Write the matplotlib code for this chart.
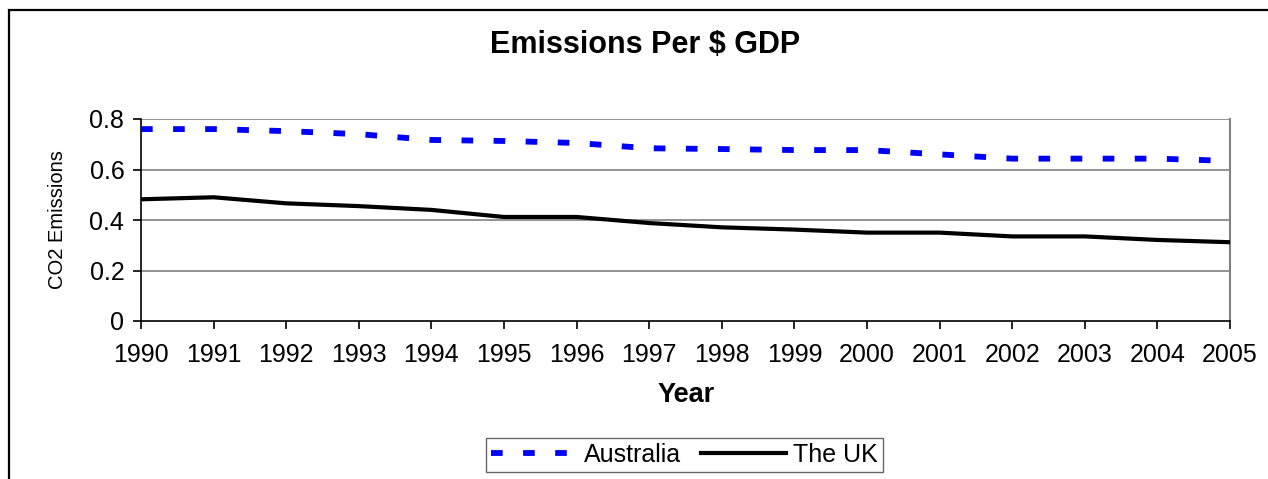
import matplotlib
matplotlib.use("Agg")
import matplotlib.pyplot as plt
from matplotlib.patches import Rectangle

plt.rcParams['font.family'] = ['Liberation Sans', 'DejaVu Sans']

# Emissions per dollar of GDP, 1990-2005
years = [1990, 1991, 1992, 1993, 1994, 1995, 1996, 1997,
         1998, 1999, 2000, 2001, 2002, 2003, 2004, 2005]
australia = [0.76, 0.76, 0.752, 0.74, 0.717, 0.713, 0.705, 0.684,
             0.681, 0.677, 0.677, 0.66, 0.643, 0.643, 0.643, 0.634]
uk = [0.482, 0.49, 0.466, 0.455, 0.44, 0.412, 0.412, 0.388,
      0.371, 0.362, 0.35, 0.35, 0.335, 0.335, 0.321, 0.312]
yticks = [0, 0.2, 0.4, 0.6, 0.8]
ytick_labels = ['0', '0.2', '0.4', '0.6', '0.8']

fig = plt.figure(figsize=(12.68, 4.79), dpi=100)
ax = fig.add_axes([141 / 1268, 1 - 321 / 479, (1230 - 141) / 1268, (321 - 119) / 479])

# outer chart frame, running off the right and bottom edges
fig.patches.append(Rectangle((9 / 1268, -0.2), 1.2, 1.2 - 10 / 479,
                             transform=fig.transFigure, fill=False,
                             edgecolor='black', linewidth=1.6, zorder=0))

ax.plot(years, australia, color='#0000ff', linewidth=4.2,
        dashes=(2.0, 3.5), dash_capstyle='butt', label='Australia', zorder=3)
ax.plot(years, uk, color='black', linewidth=3.0, label='The UK', zorder=3)

ax.set_xlim(years[0], years[-1])
ax.set_ylim(0, 0.8)
ax.set_xticks(years)
ax.set_xticklabels([str(y) for y in years], fontsize=18)
ax.set_yticks(yticks)
ax.set_yticklabels(ytick_labels, fontsize=18)
ax.tick_params(axis='both', direction='out', length=6, width=1.2, color='black', pad=6)
ax.tick_params(axis='x', pad=10)

for y in yticks[1:]:
    ax.axhline(y, color='#808080', linewidth=1.2, zorder=1)

ax.spines['top'].set_visible(False)
ax.spines['right'].set_color('#808080')
ax.spines['right'].set_linewidth(1.5)
ax.spines['left'].set_linewidth(1.2)
ax.spines['bottom'].set_linewidth(1.2)

ax.set_ylabel('CO2 Emissions', fontsize=14.5, labelpad=16)
fig.text(686 / 1268, 1 - 395 / 479, 'Year', fontsize=19.5, fontweight='bold',
         ha='center', va='center')
fig.text(645 / 1268, 1 - 45 / 479, 'Emissions Per $ GDP', fontsize=22,
         fontweight='bold', ha='center', va='center')

leg = fig.legend(loc='upper left', bbox_to_anchor=(486 / 1268, 1 - 438 / 479),
                 ncol=2, fontsize=18, frameon=True, fancybox=False,
                 handlelength=3.4, handletextpad=0.3, columnspacing=0.8,
                 borderpad=0.2, borderaxespad=0)
leg.get_frame().set_edgecolor('#404040')
leg.get_frame().set_linewidth(1.0)

fig.savefig('out.png', dpi=100)
